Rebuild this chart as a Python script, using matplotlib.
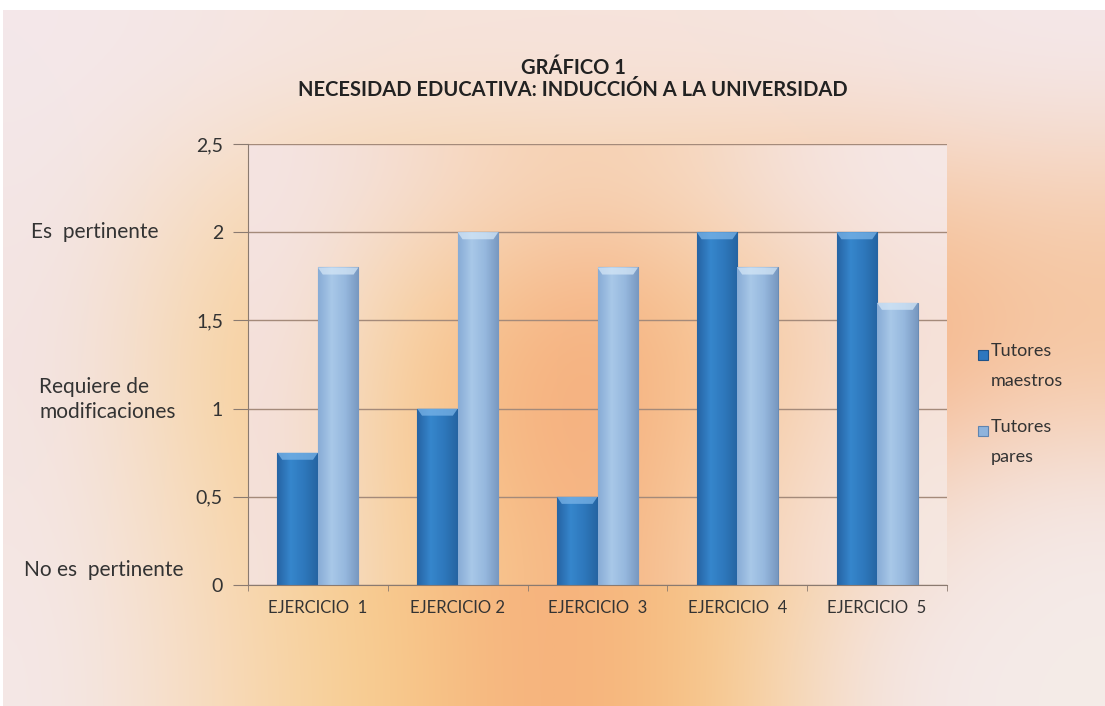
import numpy as np
import matplotlib
matplotlib.use("Agg")
import matplotlib.pyplot as plt
import matplotlib.transforms as mtransforms
from matplotlib.colors import to_rgb, LinearSegmentedColormap
from matplotlib.patches import Rectangle, Polygon

# ---- data ----
categories = ["EJERCICIO  1", "EJERCICIO 2", "EJERCICIO  3", "EJERCICIO  4", "EJERCICIO  5"]
tutores_maestros = [0.75, 1.0, 0.5, 2.0, 2.0]
tutores_pares = [1.8, 2.0, 1.8, 1.8, 1.6]
series_names = ["Tutores\nmaestros", "Tutores\npares"]
y_ticks = [0, 0.5, 1, 1.5, 2, 2.5]
y_tick_labels = ["0", "0,5", "1", "1,5", "2", "2,5"]
side_label_values = [2.0, 1.05, 0.085]
side_label_texts = ["Es  pertinente", "Requiere de\nmodificaciones", "No es  pertinente"]
title_lines = ["GRÁFICO 1", "NECESIDAD EDUCATIVA: INDUCCIÓN A LA UNIVERSIDAD"]

plt.rcParams['font.family'] = ['Lato', 'DejaVu Sans']
text_color = "#333333"
W, H = 1105, 706

fig = plt.figure(figsize=(W/100, H/100), dpi=100, facecolor="white")

def grad(rows):
    return np.array([[to_rgb(c) for c in r] for r in rows])

# figure background gradient (chart area, with a thin white margin top/left)
bg = fig.add_axes([3/W, 0, 1 - 3/W, 1 - 10/H], zorder=-10)
bg_rows = [
    ["#f4e8ea", "#f5e6e4", "#f6e4dc", "#f6e4de", "#f6e4de", "#f5e6e4", "#f4e8ea"],
    ["#f3e6e6", "#f8d8b4", "#f8d09c", "#f8cc9c", "#f8cc9c", "#f6c49a", "#f6ccac"],
    ["#f3e4e4", "#f8d29a", "#f8c488", "#f5b080", "#f8c48a", "#f4a676", "#f6c49c"],
    ["#f4e6e4", "#f8d6a8", "#f8c88a", "#f5aa7a", "#f8c886", "#f6d6c0", "#f4e8e8"],
    ["#f4e8e8", "#f8d8b4", "#f8cc88", "#f5aa7a", "#f8c882", "#f4e6e8", "#f5ece8"],
]
bg.imshow(grad(bg_rows), aspect="auto", interpolation="bicubic", extent=[0, 1, 0, 1])
bg.set_axis_off()

ax = fig.add_axes([248/W, 121/H, 699/W, 441/H])
pa_rows = [
    ["#f4e4e2", "#f5ded2", "#f7d6bc", "#f7d2b4", "#f6d8c0", "#f5e2dc", "#f5e8e6"],
    ["#f4e2de", "#f8d4a6", "#f7c08c", "#f5b080", "#f8c490", "#f6d0b0", "#f5e0d8"],
    ["#f4e0da", "#f8d09a", "#f7b884", "#f5ac7c", "#f8c492", "#f7d4b8", "#f5e4dc"],
    ["#f4e2dc", "#f8d29e", "#f8c48c", "#f5b080", "#f8cc9e", "#f6dccc", "#f6e8e2"],
]
ax.imshow(grad(pa_rows), aspect="auto", interpolation="bicubic",
          extent=[-0.5, len(categories) - 0.5, 0, 2.5], zorder=0)

x = np.arange(len(categories))
w = 0.29
dark_cmap = LinearSegmentedColormap.from_list("d", ["#2664a4", "#3686cc", "#2e78bc", "#2564a2"])
light_cmap = LinearSegmentedColormap.from_list("l", ["#88acd6", "#a8c8e8", "#96b8de", "#7898c0"])
b1 = ax.bar(x - w/2, tutores_maestros, width=w, color="#2e77bf", edgecolor="#255f98",
            linewidth=0.8, zorder=3, label=series_names[0])
b2 = ax.bar(x + w/2, tutores_pares, width=w, color="#8eb3dc", edgecolor="#6a8cb4",
            linewidth=0.8, zorder=3, label=series_names[1])
gvals = np.linspace(0, 1, 64).reshape(1, -1)
bev_cols = ["#7ab4e8", "#d4e6f6"]
for bars, cmap, bc in ((b1, dark_cmap, bev_cols[0]), (b2, light_cmap, bev_cols[1])):
    for p in bars:
        x0, y0, bw, bh = p.get_x(), p.get_y(), p.get_width(), p.get_height()
        im = ax.imshow(gvals, cmap=cmap, aspect="auto", interpolation="bilinear",
                       extent=[x0, x0 + bw, y0, y0 + bh], zorder=3.5)
        im.set_clip_path(p)
        top = y0 + bh
        d = 0.04
        ins = bw * 0.12
        ax.add_patch(Polygon([(x0, top), (x0 + bw, top), (x0 + bw - ins, top - d),
                              (x0 + ins, top - d)], closed=True, facecolor=bc,
                             alpha=0.75, edgecolor="none", zorder=3.6))

ax.set_xlim(-0.5, len(categories) - 0.5)
ax.set_ylim(0, 2.5)
ax.set_yticks(y_ticks)
ax.set_yticklabels(y_tick_labels, fontsize=14, color=text_color)
ax.set_xticks(x)
ax.set_xticklabels(categories, fontsize=12, color=text_color)
shift = mtransforms.ScaledTranslation(-6/100, 0, fig.dpi_scale_trans)
for lbl in ax.get_xticklabels():
    lbl.set_transform(lbl.get_transform() + shift)
ax.set_xticks(np.arange(-0.5, len(categories)), minor=True)
ax.tick_params(axis="x", which="major", length=0, pad=11)
ax.tick_params(axis="x", which="minor", length=4.5, color="#8a7a70")
ax.tick_params(axis="y", length=11, color="#8a7a70", pad=7)
ax.grid(axis="y", color="#a48a7a", linewidth=1, zorder=1)
for s in ["top", "right"]:
    ax.spines[s].set_visible(False)
ax.spines["left"].set_color("#8a7a70")
ax.spines["bottom"].set_color("#8a7a70")
ax.spines["left"].set_zorder(5)
ax.spines["bottom"].set_zorder(5)

trans = ax.get_yaxis_transform()
side_x = [-0.219, -0.201, -0.206]
for sx, yv, txt in zip(side_x, side_label_values, side_label_texts):
    ax.text(sx, yv, txt, transform=trans, ha="center", va="center", multialignment="left",
            fontsize=15, color=text_color, linespacing=1.3, clip_on=False)

fig.text(573/W, 1 - 68/H, title_lines[0], ha="center", va="center",
         fontsize=14.5, fontweight="bold", color="#222222")
fig.text(573/W, 1 - 90/H, title_lines[1], ha="center", va="center",
         fontsize=14.5, fontweight="bold", color="#222222")

# legend
leg_colors = ["#2e77bf", "#8eb3dc"]
leg_edges = ["#1f5288", "#5f84b0"]
leg_y = [355, 431]
for name, fc, ec, ly in zip(series_names, leg_colors, leg_edges, leg_y):
    fig.patches.append(Rectangle((978/W, 1 - (ly + 5)/H), 10/W, 10/H, facecolor=fc,
                                 edgecolor=ec, linewidth=0.8, transform=fig.transFigure,
                                 figure=fig))
    fig.text(991/W, 1 - (ly - 12)/H, name, ha="left", va="top", fontsize=13,
             color=text_color, linespacing=2.1)

fig.savefig("out.png", dpi=100, facecolor="white")
